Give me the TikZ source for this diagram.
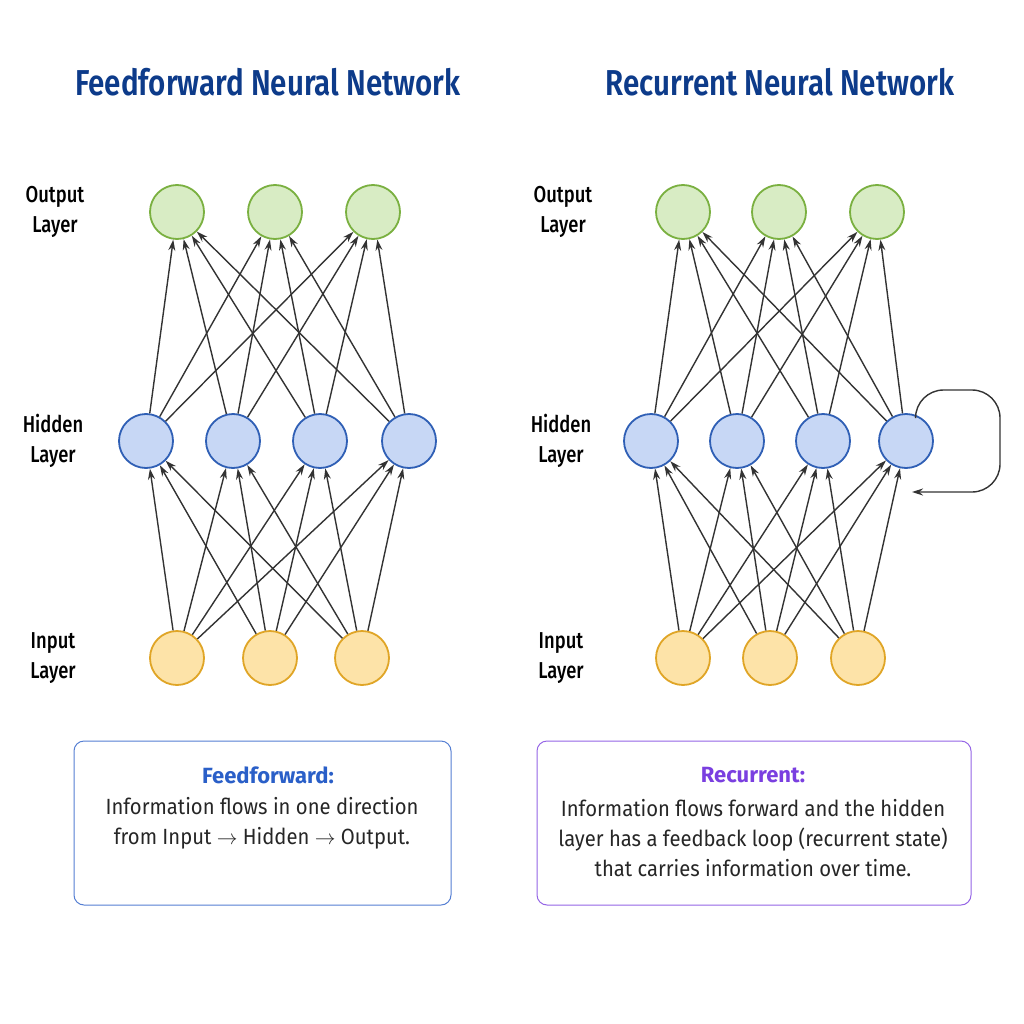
\documentclass[tikz,border=0pt]{standalone}
\usepackage{fontspec}
\setmainfont{Fira Sans}
\newfontfamily\titlefont[FakeStretch=0.82]{Fira Sans SemiBold}
\newfontfamily\labelfont[FakeStretch=0.8]{Fira Sans Medium}
\newfontfamily\bodyfont[FakeStretch=0.92]{Fira Sans}
\usetikzlibrary{arrows.meta}
\definecolor{titleblue}{HTML}{0D3B8A}
\definecolor{headblue}{HTML}{2A5FC8}
\definecolor{headpurple}{HTML}{7A3FE0}
\definecolor{outfill}{HTML}{D8ECC4}
\definecolor{outdraw}{HTML}{7AB040}
\definecolor{hidfill}{HTML}{C7D7F5}
\definecolor{hiddraw}{HTML}{2F5FB5}
\definecolor{infill}{HTML}{FDE3A8}
\definecolor{indraw}{HTML}{E0A526}
\definecolor{edge}{HTML}{333333}
\begin{document}
\begin{tikzpicture}[x=1pt,y=-1pt,
  neuron/.style={circle,minimum size=54pt,inner sep=0pt,line width=1.8pt},
  outn/.style={neuron,fill=outfill,draw=outdraw},
  hidn/.style={neuron,fill=hidfill,draw=hiddraw},
  inn/.style={neuron,fill=infill,draw=indraw},
  arrow/.style={-{Stealth[length=11pt,width=7pt]},draw=edge,line width=1.4pt},
  layer/.style={font=\labelfont\fontsize{23}{30}\selectfont,align=center},
  title/.style={font=\titlefont\fontsize{36}{40}\selectfont,text=titleblue},
  note/.style={draw,rounded corners=10pt,line width=1pt,minimum height=164pt},
  body/.style={font=\bodyfont\fontsize{22}{30}\selectfont,align=center,text=black!85}]
  \useasboundingbox[fill=white] (0,0) rectangle (1024,1024);

  % titles
  \node[title] (ltitle) at (268,82) {Feedforward Neural Network};
  \node[title] (rtitle) at (780,82) {Recurrent Neural Network};

  % left network
  \foreach \x [count=\i] in {177,275,373} \node[outn] (lo\i) at (\x,212) {};
  \foreach \x [count=\i] in {146,233,320,409} \node[hidn] (lh\i) at (\x,441) {};
  \foreach \x [count=\i] in {177,270,362} \node[inn] (li\i) at (\x,658) {};

  % right network
  \foreach \x [count=\i] in {683,779,877} \node[outn] (ro\i) at (\x,212) {};
  \foreach \x [count=\i] in {651,737,823,906} \node[hidn] (rh\i) at (\x,441) {};
  \foreach \x [count=\i] in {683,770,858} \node[inn] (ri\i) at (\x,658) {};

  % connections
  \foreach \s in {l,r}{
    \foreach \a in {1,2,3}
      \foreach \b in {1,2,3,4}{
        \draw[arrow] (\s i\a) -- (\s h\b);
        \draw[arrow] (\s h\b) -- (\s o\a);
      }
  }

  % recurrent loop
  \coordinate (la) at (1000,390);
  \coordinate (lend) at (912,492);
  \draw[arrow,rounded corners=28pt] (rh4.70) |- (la) |- (lend);

  % layer labels
  \node[layer] (lout) at (55,212) {Output\\Layer};
  \node[layer] (lhid) at (53,441) {Hidden\\Layer};
  \node[layer] (lin) at (53,658) {Input\\Layer};
  \node[layer] (rout) at (563,212) {Output\\Layer};
  \node[layer] (rhid) at (561,441) {Hidden\\Layer};
  \node[layer] (rin) at (561,658) {Input\\Layer};

  % notes
  \node[note,draw=headblue!80,minimum width=377pt] (lbox) at (262.5,823) {};
  \node[font=\bfseries\fontsize{22}{26}\selectfont,text=headblue] (lhead) at (268,775) {Feedforward:};
  \node[body] (ltext) at (262,823) {Information flows in one direction\\from Input $\rightarrow$ Hidden $\rightarrow$ Output.};
  \node[note,draw=headpurple!80,minimum width=434pt] (rbox) at (754,823) {};
  \node[font=\bfseries\fontsize{22}{26}\selectfont,text=headpurple] (rhead) at (753,775) {Recurrent:};
  \node[body] (rtext) at (753,838) {Information flows forward and the hidden\\layer has a feedback loop (recurrent state)\\that carries information over time.};
\end{tikzpicture}
\end{document}
